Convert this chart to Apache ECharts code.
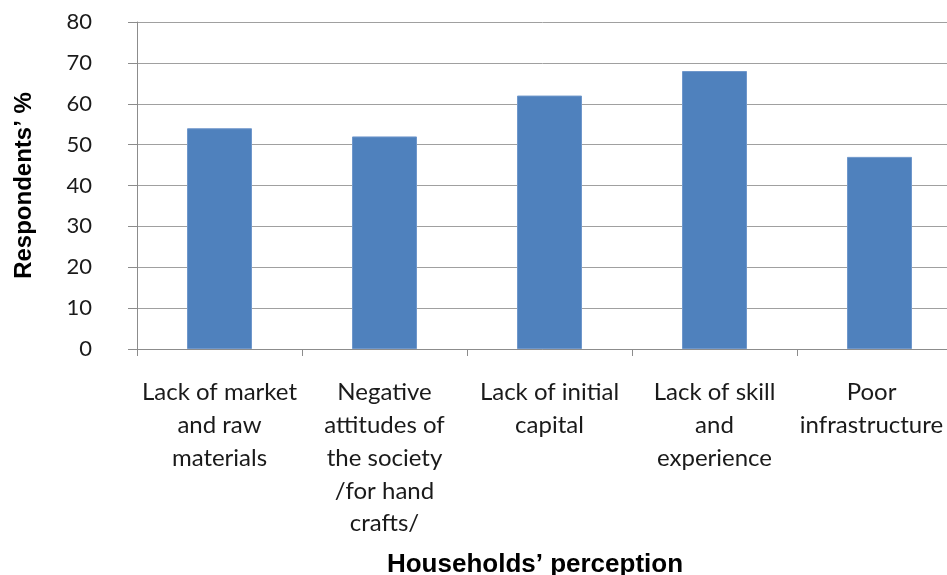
<!DOCTYPE html>
<html>
<head>
<meta charset="utf-8">
<script src="https://cdn.jsdelivr.net/npm/echarts@6/dist/echarts.min.js"></script>
<style>
html,body{margin:0;padding:0;background:#fff;}
#chart{width:947px;height:575px;}
</style>
</head>
<body>
<div id="chart"></div>
<script>
const categories = [
  "Lack of market\nand raw\nmaterials",
  "Negative\nattitudes of\nthe society\n/for hand\ncrafts/",
  "Lack of initial\ncapital",
  "Lack of skill\nand\nexperience",
  "Poor\ninfrastructure"
];
const values = [54, 52, 62, 68, 47];
const yTicks = { min: 0, max: 80, interval: 10 };
const xTitle = "Households’ perception";
const yTitle = "Respondents’ %";

const chart = echarts.init(document.getElementById('chart'));
const labelFont = 'Lato, "Open Sans", sans-serif';
chart.setOption({
  animation: false,
  grid: { left: 137, top: 22, width: 825, height: 327, containLabel: false, outerBoundsMode: 'none' },
  xAxis: {
    type: 'category',
    data: categories.map((c, i) => i === categories.length - 1
      ? { value: c, textStyle: { padding: [0, 16, 0, 0] } }
      : c),
    axisLine: { lineStyle: { color: '#8c8c8c', width: 1 } },
    axisTick: { show: true, length: 7, alignWithLabel: false, lineStyle: { color: '#8c8c8c' } },
    axisLabel: {
      interval: 0,
      margin: 27,
      fontFamily: labelFont,
      fontSize: 24,
      lineHeight: 32.8,
      color: '#1a1a1a',
      align: 'center'
    },
    name: xTitle,
    nameLocation: 'middle',
    nameGap: 203,
    nameTextStyle: {
      fontFamily: 'Arial, "Liberation Sans", sans-serif',
      fontWeight: 'bold',
      fontSize: 26,
      color: '#000',
      padding: [0, 29, 0, 0]
    }
  },
  yAxis: {
    type: 'value',
    min: yTicks.min,
    max: yTicks.max,
    interval: yTicks.interval,
    axisLine: { show: true, lineStyle: { color: '#8c8c8c', width: 1 } },
    axisTick: { show: true, length: 9, lineStyle: { color: '#8c8c8c' } },
    splitLine: { show: true, lineStyle: { color: '#a0a0a0', width: 1 } },
    axisLabel: {
      margin: 45,
      fontFamily: labelFont,
      fontSize: 22,
      color: '#1a1a1a'
    },
    name: yTitle,
    nameLocation: 'middle',
    nameGap: 101,
    nameRotate: 90,
    nameTextStyle: {
      fontFamily: 'Arial, "Liberation Sans", sans-serif',
      fontWeight: 'bold',
      fontSize: 24,
      color: '#000'
    }
  },
  series: [{
    type: 'bar',
    data: values,
    barWidth: 65,
    itemStyle: { color: '#4f81bd', borderColor: '#6f97cb', borderWidth: 1 }
  }]
});
</script>
</body>
</html>
